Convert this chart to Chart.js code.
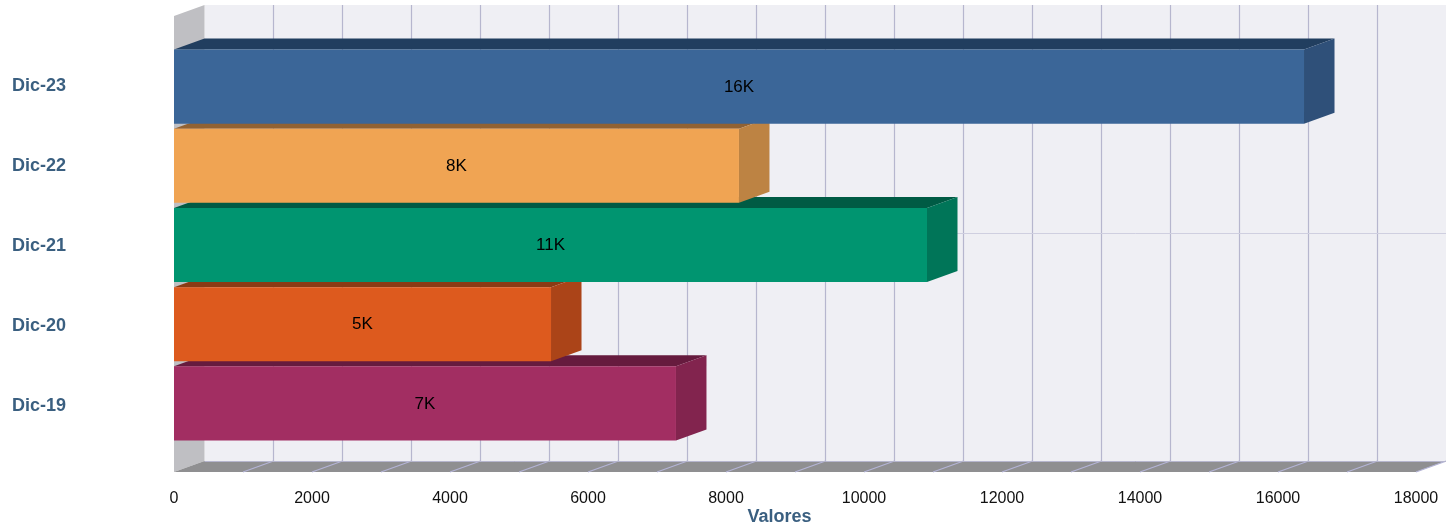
<!DOCTYPE html>
<html>
<head>
<meta charset="utf-8">
<title>Valores</title>
<script src="https://cdn.jsdelivr.net/npm/chart.js@4"></script>
<style>
  html, body { margin: 0; padding: 0; background: #fff; }
  canvas { display: block; }
</style>
</head>
<body>
<canvas id="chart" width="1446" height="527"></canvas>
<script>
// Data
const categories = ['Dic-23', 'Dic-22', 'Dic-21', 'Dic-20', 'Dic-19'];
const values = [16377, 8188, 10913, 5464, 7275];
const barLabels = ['16K', '8K', '11K', '5K', '7K'];
const axisTitle = 'Valores';

// Face colours per bar
const frontColors = ['#3b6698', '#f0a453', '#009570', '#dd5a1e', '#a22e62'];
const topColors = ['#213e5f', '#916233', '#005b44', '#8a3b14', '#661b3e'];
const sideColors = ['#2f5079', '#bd8343', '#007558', '#ab4418', '#82244e'];

// 3D box look
const depthX = 30.5;
const depthY = 11;
const wallAbove = 31;   // px the room goes above the first band
const wallBelow = 29;   // px the room goes below the last band
const wallRight = 30;

const poly = (ctx, color, pts) => {
    ctx.fillStyle = color;
    ctx.beginPath();
    pts.forEach(([x, y], i) => (i ? ctx.lineTo(x, y) : ctx.moveTo(x, y)));
    ctx.closePath();
    ctx.fill();
};

const room3d = {
    id: 'room3d',
    beforeDatasetsDraw(chart) {
        const { ctx, chartArea: a, scales: { x, y } } = chart;
        const top = a.top - wallAbove;
        const bottom = a.bottom + wallBelow;
        const right = a.right + wallRight;
        const wallY = bottom - depthY;
        ctx.save();

        // back wall, side wall, floor
        poly(ctx, '#efeff4', [[a.left + depthX, top - depthY], [right, top - depthY], [right, wallY], [a.left + depthX, wallY]]);
        poly(ctx, '#bfbfc3', [[a.left, top], [a.left + depthX, top - depthY], [a.left + depthX, wallY], [a.left, bottom]]);
        poly(ctx, '#8f8f91', [[a.left, bottom], [a.left + depthX, wallY], [right, wallY], [a.right, bottom]]);

        // grid lines on wall and floor
        ctx.lineWidth = 1.2;
        x.ticks.forEach(t => {
            if (t.value === 0) return;
            const px = x.getPixelForValue(t.value);
            const backX = Math.floor(px + depthX) + 0.5;
            if (t.value !== x.max) {
                ctx.strokeStyle = '#b6b6ce';
                ctx.beginPath();
                ctx.moveTo(backX, top - depthY);
                ctx.lineTo(backX, wallY);
                ctx.stroke();
            }
            ctx.strokeStyle = '#b4b4d6';
            ctx.beginPath();
            ctx.moveTo(backX, wallY);
            ctx.lineTo(px, bottom);
            ctx.stroke();
        });
        ctx.lineWidth = 1;
        ctx.strokeStyle = '#b6b6ce';
        ctx.beginPath();
        ctx.moveTo(a.left + depthX, wallY + 0.5);
        ctx.lineTo(right, wallY + 0.5);
        ctx.stroke();

        const rowY = Math.round(y.getPixelForValue(2) - depthY) - 0.5;
        ctx.strokeStyle = '#cfcfe0';
        ctx.beginPath();
        ctx.moveTo(a.left + depthX, rowY);
        ctx.lineTo(right, rowY);
        ctx.stroke();

        // top and side faces, lowest bar first so upper ones overlap
        const bars = chart.getDatasetMeta(0).data;
        for (let i = bars.length - 1; i >= 0; i--) {
            const b = bars[i];
            const t = b.y - b.height / 2;
            const u = b.y + b.height / 2;
            poly(ctx, topColors[i], [[b.base, t], [b.base + depthX, t - depthY], [b.x + depthX, t - depthY], [b.x, t]]);
            poly(ctx, sideColors[i], [[b.x, t], [b.x + depthX, t - depthY], [b.x + depthX, u - depthY], [b.x, u]]);
        }
        ctx.restore();
    },
    afterDatasetsDraw(chart) {
        const { ctx } = chart;
        ctx.save();
        ctx.textAlign = 'center';
        ctx.textBaseline = 'middle';
        ctx.fillStyle = '#000';
        ctx.font = '17px "Liberation Sans", Arial, sans-serif';
        chart.getDatasetMeta(0).data.forEach((b, i) => {
            ctx.fillText(barLabels[i], (b.base + b.x) / 2, b.y + 0.5);
        });
        ctx.fillStyle = '#3a5f80';
        ctx.font = 'bold 18px "Liberation Sans", Arial, sans-serif';
        ctx.fillText(axisTitle, 779.5, 517);
        ctx.restore();
    }
};

new Chart(document.getElementById('chart').getContext('2d'), {
    type: 'bar',
    data: {
        labels: categories,
        datasets: [{
            data: values,
            backgroundColor: frontColors,
            borderWidth: 0,
            categoryPercentage: 1,
            barPercentage: 0.935
        }]
    },
    options: {
        indexAxis: 'y',
        responsive: false,
        animation: false,
        layout: { padding: { left: 12, right: 30, top: 47, bottom: 0 } },
        plugins: { legend: { display: false }, tooltip: { enabled: false } },
        scales: {
            x: {
                min: 0,
                max: 18000,
                afterFit(scale) {
                    scale.height = 84;
                    scale.paddingLeft = 0;
                    scale.paddingRight = 0;
                },
                grid: { display: false, drawTicks: false },
                border: { display: false },
                ticks: {
                    stepSize: 1000,
                    autoSkip: false,
                    maxRotation: 0,
                    padding: 46,
                    color: '#111',
                    font: { family: '"Liberation Sans", Arial, sans-serif', size: 16 },
                    callback: v => (v % 2000 === 0 ? String(v) : '')
                }
            },
            y: {
                afterFit(scale) {
                    scale.width = 162;
                    scale.paddingTop = 0;
                    scale.paddingBottom = 0;
                    // the labels sit a little wider apart than the bars
                    scale.getPixelForTick = i => scale.getPixelForValue(i) + i - 1;
                },
                grid: { display: false, drawTicks: false },
                border: { display: false },
                ticks: {
                    crossAlign: 'far',
                    padding: 0,
                    color: '#3a5f80',
                    font: { family: '"Liberation Sans", Arial, sans-serif', size: 18, weight: 'bold' }
                }
            }
        }
    },
    plugins: [room3d]
});
</script>
</body>
</html>
